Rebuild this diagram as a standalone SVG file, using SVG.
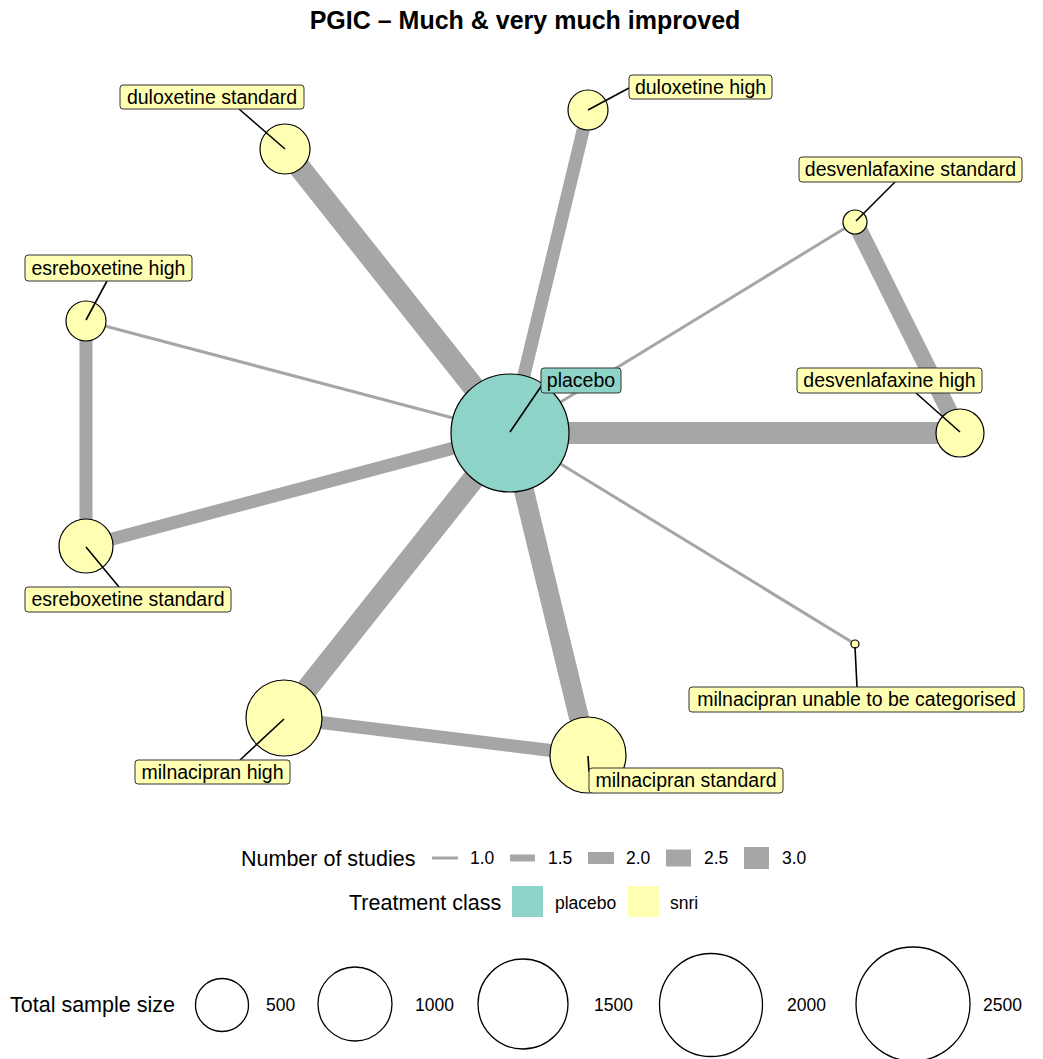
<svg xmlns="http://www.w3.org/2000/svg" width="1043" height="1059" viewBox="0 0 1043 1059">
<style>
text{font-family:"Liberation Sans",Arial,sans-serif;fill:#000}
.title{font-size:25px;font-weight:bold}
.lbl{font-size:19.5px}
.leg{font-size:21.5px}
.legs{font-size:17.5px}
.e{stroke:#a6a6a6;stroke-linecap:butt;fill:none}
.node{stroke:#000;stroke-width:1.2}
.pl{fill:#8dd3c7}
.sn{fill:#ffffb3}
.box{stroke:#333;stroke-width:1}
.lead{stroke:#000;stroke-width:1.6}
.sz{fill:none;stroke:#000;stroke-width:1.3}
</style>
<rect width="1043" height="1059" fill="#fff"/>
<text class="title" x="525" y="29" text-anchor="middle">PGIC – Much &amp; very much improved</text>
<g id="connectors">
<line class="e" x1="510" y1="433" x2="285" y2="149" stroke-width="22"/>
<line class="e" x1="510" y1="433" x2="588" y2="110" stroke-width="13"/>
<line class="e" x1="510" y1="433" x2="855" y2="222" stroke-width="3"/>
<line class="e" x1="855" y1="222" x2="960" y2="433" stroke-width="17"/>
<line class="e" x1="510" y1="433" x2="960" y2="433" stroke-width="22"/>
<line class="e" x1="510" y1="433" x2="855" y2="644" stroke-width="3"/>
<line class="e" x1="510" y1="433" x2="588" y2="755" stroke-width="20"/>
<line class="e" x1="510" y1="433" x2="284" y2="718" stroke-width="22"/>
<line class="e" x1="284" y1="718" x2="588" y2="755" stroke-width="13"/>
<line class="e" x1="510" y1="433" x2="86" y2="546" stroke-width="13"/>
<line class="e" x1="510" y1="433" x2="86" y2="321" stroke-width="3"/>
<line class="e" x1="86" y1="321" x2="86" y2="546" stroke-width="13"/>
</g>
<g id="node-placebo"><circle class="node pl" cx="510" cy="433" r="59"/></g>
<g id="node-duloxetine-standard"><circle class="node sn" cx="285" cy="149" r="25"/></g>
<g id="node-duloxetine-high"><circle class="node sn" cx="588" cy="110" r="20"/></g>
<g id="node-desvenlafaxine-standard"><circle class="node sn" cx="855" cy="222" r="12"/></g>
<g id="node-desvenlafaxine-high"><circle class="node sn" cx="960" cy="433" r="24"/></g>
<g id="node-esreboxetine-high"><circle class="node sn" cx="86" cy="321" r="20"/></g>
<g id="node-esreboxetine-standard"><circle class="node sn" cx="86" cy="546" r="27"/></g>
<g id="node-milnacipran-high"><circle class="node sn" cx="284" cy="718" r="38"/></g>
<g id="node-milnacipran-standard"><circle class="node sn" cx="588" cy="755" r="38"/></g>
<g id="node-milnacipran-unable"><circle class="node sn" cx="855" cy="644" r="4"/></g>
<g id="labels">
<line class="lead" x1="510" y1="432" x2="542" y2="385"/>
<rect class="box pl" x="541" y="368" width="80" height="25" rx="3"/>
<text class="lbl" x="581" y="387" text-anchor="middle">placebo</text>
<line class="lead" x1="285" y1="149" x2="239" y2="109"/>
<rect class="box sn" x="120" y="85" width="184" height="24" rx="3"/>
<text class="lbl" x="212" y="104" text-anchor="middle">duloxetine standard</text>
<line class="lead" x1="588" y1="110" x2="629" y2="88"/>
<rect class="box sn" x="629" y="75" width="143" height="24" rx="3"/>
<text class="lbl" x="700.5" y="94" text-anchor="middle">duloxetine high</text>
<line class="lead" x1="856" y1="221" x2="895" y2="182"/>
<rect class="box sn" x="799" y="157" width="223" height="25" rx="3"/>
<text class="lbl" x="910.5" y="176" text-anchor="middle">desvenlafaxine standard</text>
<line class="lead" x1="86" y1="320" x2="107" y2="281"/>
<rect class="box sn" x="25" y="255" width="167" height="26" rx="3"/>
<text class="lbl" x="108.5" y="275" text-anchor="middle">esreboxetine high</text>
<line class="lead" x1="960" y1="432" x2="916" y2="393"/>
<rect class="box sn" x="797" y="368" width="185" height="25" rx="3"/>
<text class="lbl" x="889.5" y="387" text-anchor="middle">desvenlafaxine high</text>
<line class="lead" x1="86" y1="547" x2="119" y2="587"/>
<rect class="box sn" x="25" y="587" width="206" height="25" rx="3"/>
<text class="lbl" x="128" y="606" text-anchor="middle">esreboxetine standard</text>
<line class="lead" x1="855" y1="647" x2="857" y2="687"/>
<rect class="box sn" x="689" y="687" width="335" height="25" rx="3"/>
<text class="lbl" x="856.5" y="706" text-anchor="middle">milnacipran unable to be categorised</text>
<line class="lead" x1="284" y1="719" x2="240" y2="760"/>
<rect class="box sn" x="135" y="760" width="155" height="24" rx="3"/>
<text class="lbl" x="212.5" y="779" text-anchor="middle">milnacipran high</text>
<line class="lead" x1="588" y1="756" x2="589" y2="772"/>
<rect class="box sn" x="589" y="768" width="194" height="25" rx="3"/>
<text class="lbl" x="686" y="787" text-anchor="middle">milnacipran standard</text>
</g>
<g id="legend-studies">
<text class="leg" x="241" y="866">Number of studies</text>
<rect x="432" y="856.5" width="26" height="3" fill="#a6a6a6"/>
<text class="legs" x="470" y="864">1.0</text>
<rect x="510" y="854.5" width="25" height="7" fill="#a6a6a6"/>
<text class="legs" x="548" y="864">1.5</text>
<rect x="588" y="852" width="26" height="12" fill="#a6a6a6"/>
<text class="legs" x="626" y="864">2.0</text>
<rect x="666" y="849.5" width="25" height="17" fill="#a6a6a6"/>
<text class="legs" x="704" y="864">2.5</text>
<rect x="744" y="847" width="25" height="22" fill="#a6a6a6"/>
<text class="legs" x="782" y="864">3.0</text>
</g>
<g id="legend-class">
<text class="leg" x="349" y="910">Treatment class</text>
<rect x="512" y="886" width="31" height="31" fill="#8dd3c7"/>
<text class="legs" x="555" y="909">placebo</text>
<rect x="628" y="886" width="31" height="31" fill="#ffffb3"/>
<text class="legs" x="670" y="909">snri</text>
</g>
<g id="legend-size">
<text class="leg" x="10" y="1012">Total sample size</text>
<circle class="sz" cx="222" cy="1005" r="26.5"/>
<text class="legs" x="266" y="1011">500</text>
<circle class="sz" cx="355" cy="1004" r="37"/>
<text class="legs" x="415" y="1011">1000</text>
<circle class="sz" cx="523" cy="1004" r="45"/>
<text class="legs" x="594" y="1011">1500</text>
<circle class="sz" cx="711" cy="1005" r="51.5"/>
<text class="legs" x="787" y="1011">2000</text>
<circle class="sz" cx="913" cy="1004" r="57"/>
<text class="legs" x="983" y="1011">2500</text>
</g>
</svg>
